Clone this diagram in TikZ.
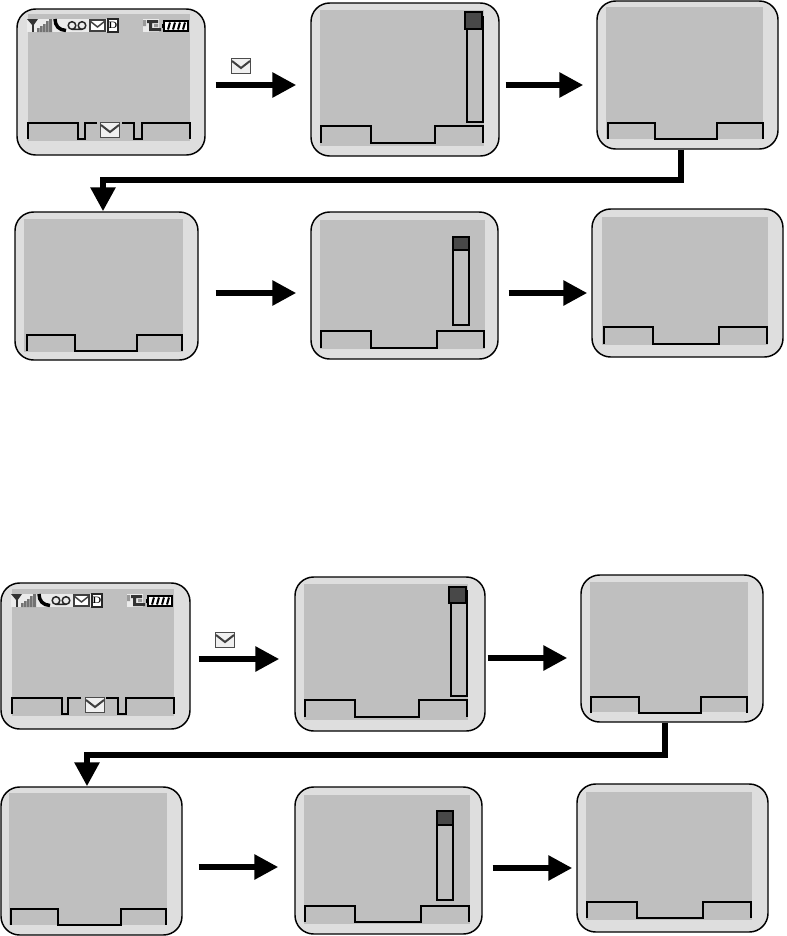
\documentclass[tikz,border=0pt]{standalone}
\usepackage{xcolor}
\usepackage{tikz}
\usetikzlibrary{arrows.meta,fit}

\definecolor{casinggray}{HTML}{DEDEDE}
\definecolor{screengray}{HTML}{BFBFBF}
\definecolor{thumbgray}{HTML}{484848}

\tikzset{
  casing/.style={draw, fill=casinggray, line width=1.1pt, rounded corners=14pt, inner sep=0pt},
  screen/.style={fill=screengray, inner sep=0pt},
  softkey/.style={draw, line width=1.1pt, line join=miter},
  scrollbar/.style={draw, line width=1.1pt},
  scrollthumb/.style={draw, fill=thumbgray, line width=.8pt},
  flow/.style={line width=4.4pt, line join=miter, -{Triangle[length=18pt,width=18pt]}},
  mail/.pic={
    \draw[fill=white!94!black, draw=black!70, line width=1.4pt] (-9.5,-7.5) rectangle (9.5,7.5);
    \draw[draw=black!75, line width=1.5pt] (-9,-5) -- (0,2) -- (9,-5);
  },
  statusbar/.pic={
    % signal, handset, voicemail, mail, D
    \fill[white!92!black] (-1,5) rectangle (90,18);
    \fill[black!80] (-1,5) -- (10,5) -- (5,12) -- cycle;
    \draw[black!80, line width=1.5pt] (5,5) -- (5,18);
    \fill[black!55] (9,14) rectangle (11.5,18) (12,12) rectangle (14.5,18)
      (15,10) rectangle (17.5,18) (18,7) rectangle (20.5,18) (21,5) rectangle (24,18);
    \draw[black, line width=2.6pt] (27,5) .. controls (27,12) and (31,16) .. (38,16.5);
    \draw[black!85, line width=1.1pt] (44,11.5) circle (3.8) (54,11.5) circle (3.8) (44,15.3) -- (54,15.3);
    \draw[black!75, fill=white, line width=1.1pt] (62,6) rectangle (77,17);
    \draw[black!75, line width=1.1pt] (62,7) -- (69.5,13) -- (77,7);
    \node[draw=black!85, fill=white, line width=1.3pt, inner sep=0pt, minimum width=7.5pt,
      minimum height=10pt, font=\fontsize{7}{7}\selectfont\bfseries] (d) at (85,11.5) {D};
    % charger, battery
    \fill[white!92!black] (115,5) rectangle (131,18);
    \fill[black!80] (119,6) rectangle (130,9) (121,9) rectangle (124,16) (121,14) rectangle (133,17);
    \fill[black!40] (115,6) rectangle (118,12) (126,10) rectangle (130,13);
    \draw[black, fill=white, line width=1.1pt] (136,7) rectangle (160,17);
    \fill[black] (134,10) rectangle (136,14);
    \foreach \i in {140,145,150,155} {
      \draw[black, line width=1.5pt] (\i,15.5) -- (\i+2,8.5);
    }
  }
}

\newcommand{\phone}[5]{%
  \node[casing, fit={(#2)(#3)}] (#1) {};
  \node[screen, fit={(#4)(#5)}] (#1s) {};
}
\newcommand{\softkeys}[6]{%
  \draw[softkey] (#3,#2) -- (#3,#1) -- (#4,#1) -- (#4,#2) -- (#5,#2) -- (#5,#1) -- (#6,#1) -- (#6,#2);
}

\begin{document}
\begin{tikzpicture}[x=.75pt, y=-.75pt]
  \useasboundingbox (0,0) rectangle (786,936);

  % first sequence, top row
  \phone{p1}{17,9}{205,155}{28,14}{190,141}
  \pic (p1b) at (28,14) {statusbar};
  \draw[softkey] (28,139) -- (28,123) -- (78,123) -- (78,139) -- (85,139) -- (85,123) -- (97,123);
  \draw[softkey] (122,123) -- (134,123) -- (134,139) -- (142,139) -- (142,123) -- (190,123) -- (190,139);
  \pic (p1m) at (110,130) {mail};
  \pic (a1m) at (241,66) {mail};

  \phone{p2}{311,3}{499,156}{320,10}{484,146}
  \draw[scrollbar] (467,17) rectangle (483,122);
  \draw[scrollthumb] (465,12) rectangle (482,29);
  \softkeys{126}{143}{321}{371}{435}{483}

  \phone{p3}{597,1}{778,149}{606,7}{763,139}
  \softkeys{123}{139}{608}{655}{717}{763}

  % first sequence, bottom row
  \phone{p4}{15,212}{198,360}{24,219}{183,352}
  \softkeys{335}{351}{27}{75}{137}{182}

  \phone{p5}{311,212}{498,359}{320,220}{485,349}
  \draw[scrollbar] (453,237) rectangle (469,325);
  \draw[scrollthumb] (453,237) rectangle (469,250);
  \softkeys{331}{348}{321}{371}{437}{484}

  \phone{p6}{592,209}{783,357}{602,217}{768,345}
  \softkeys{327}{344}{604}{653}{719}{767}

  % second sequence, top row
  \phone{q1}{1,583}{190,729}{12,589}{174,716}
  \pic (q1b) at (12,589) {statusbar};
  \draw[softkey] (12,714) -- (12,698) -- (62,698) -- (62,714) -- (68,714) -- (68,698) -- (81,698);
  \draw[softkey] (106,698) -- (118,698) -- (118,714) -- (126,714) -- (126,698) -- (174,698) -- (174,714);
  \pic (q1m) at (95,705) {mail};
  \pic (a5m) at (225,640) {mail};

  \phone{q2}{295,577}{485,731}{304,584}{468,720}
  \draw[scrollbar] (451,591) rectangle (467,696);
  \draw[scrollthumb] (449,587) rectangle (466,603);
  \softkeys{700}{717}{305}{355}{419}{467}

  \phone{q3}{581,575}{763,722}{590,582}{748,712}
  \softkeys{697}{713}{591}{639}{701}{747}

  % second sequence, bottom row
  \phone{q4}{1,787}{182,935}{9,793}{167,925}
  \softkeys{909}{925}{11}{58}{121}{166}

  \phone{q5}{295,787}{482,934}{304,795}{470,924}
  \draw[scrollbar] (437,811) rectangle (453,900);
  \draw[scrollthumb] (437,811) rectangle (453,825);
  \softkeys{906}{922}{305}{355}{421}{469}

  \phone{q6}{577,784}{768,932}{586,792}{752,920}
  \softkeys{902}{918}{587}{637}{703}{751}

  % connectors
  \coordinate (b1) at (103,180);
  \coordinate (b2) at (87,755);
  \draw[flow] ([shift={(10,3)}]p1.east) -- ([shift={(-14,5.5)}]p2.west);
  \draw[flow] ([shift={(6,5.5)}]p2.east) -- ([shift={(-13,10)}]p3.west);
  \draw[flow] ([shift={(-6.5,0)}]p3.south) |- (b1) -- ([shift={(-3.5,0)}]p4.north);
  \draw[flow] ([shift={(17,7)}]p4.east) -- ([shift={(-14,7.5)}]p5.west);
  \draw[flow] ([shift={(10,7.5)}]p5.east) -- ([shift={(-4,10)}]p6.west);
  \draw[flow] ([shift={(8,3)}]q1.east) -- ([shift={(-15,5)}]q2.west);
  \draw[flow] ([shift={(2,4)}]q2.east) -- ([shift={(-13,9.5)}]q3.west);
  \draw[flow] ([shift={(-7,0)}]q3.south) |- (b2) -- ([shift={(-4.5,0)}]q4.north);
  \draw[flow] ([shift={(16,6)}]q4.east) -- ([shift={(-16,6.5)}]q5.west);
  \draw[flow] ([shift={(10,7.5)}]q5.east) -- ([shift={(-4,10)}]q6.west);
\end{tikzpicture}
\end{document}
